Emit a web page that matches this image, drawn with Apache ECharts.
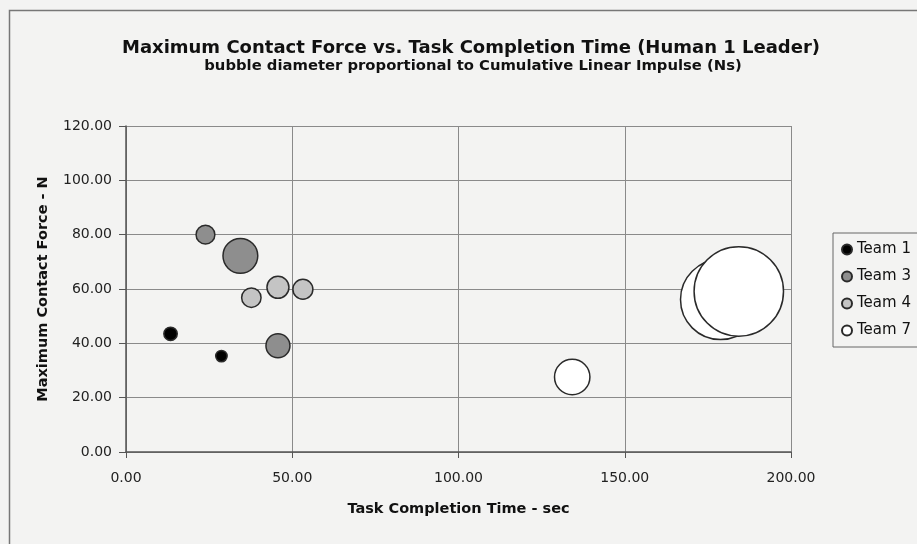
<!DOCTYPE html>
<html>
<head>
<meta charset="utf-8">
<script src="https://cdn.jsdelivr.net/npm/echarts@6/dist/echarts.min.js"></script>
<style>html,body{margin:0;padding:0;background:#f3f3f2;}#c{width:917px;height:544px;}</style>
</head>
<body>
<div id="c"></div>
<script>
// Data
const xTicks = [0, 50, 100, 150, 200];
const yTicks = [0, 20, 40, 60, 80, 100, 120];
const teamNames = ['Team 1', 'Team 3', 'Team 4', 'Team 7'];
// Task completion time (sec)
const team1Time = [13.4, 28.7];
const team3Time = [23.9, 34.4, 45.7];
const team4Time = [37.7, 45.7, 53.2];
const team7Time = [134.2, 178.8, 184.3];
// Maximum contact force (N)
const team1Force = [43.5, 35.3];
const team3Force = [80.0, 72.2, 39.1];
const team4Force = [56.8, 60.6, 59.9];
const team7Force = [27.6, 56.1, 59.1];
// Cumulative linear impulse (Ns) - bubble diameter proportional
const team1Impulse = [6.7, 5.7];
const team3Impulse = [9.4, 17.4, 12.0];
const team4Impulse = [9.7, 11.0, 10.0];
const team7Impulse = [17.7, 40.0, 44.7];

const pxPerNs = 2;
function pts(xs, ys, zs) { return xs.map((x, i) => [x, ys[i], zs[i]]); }
const FONT = '"DejaVu Sans", "Liberation Sans", Arial, sans-serif';
const fills = ['#000000', '#8e8e8e', '#c4c4c4', '#ffffff'];
const dataSets = [
  pts(team1Time, team1Force, team1Impulse),
  pts(team3Time, team3Force, team3Impulse),
  pts(team4Time, team4Force, team4Impulse),
  pts(team7Time, team7Force, team7Impulse)
];

const chart = echarts.init(document.getElementById('c'), null, {renderer: 'canvas'});
chart.setOption({
  backgroundColor: '#f3f3f2',
  animation: false,
  graphic: [{
    type: 'rect', left: 7, top: 8, shape: {width: 940, height: 560},
    style: {fill: 'none', stroke: '#777', lineWidth: 1.5}, silent: true, z: -1
  }],
  title: [{
    text: 'Maximum Contact Force vs. Task Completion Time (Human 1 Leader)',
    left: 466, top: 34, textAlign: 'center',
    textStyle: {fontFamily: FONT, fontSize: 18, fontWeight: 'bold', color: '#111'}
  }, {
    text: 'bubble diameter proportional to Cumulative Linear Impulse (Ns)',
    left: 468, top: 54, textAlign: 'center',
    textStyle: {fontFamily: FONT, fontSize: 14.8, fontWeight: 'bold', color: '#111'}
  }],
  legend: {
    orient: 'vertical', left: 833, top: 233,
    data: teamNames, icon: 'circle', itemWidth: 10, itemHeight: 10, itemGap: 10,
    padding: [8, 12, 8, 8],
    borderColor: '#666', borderWidth: 1, backgroundColor: '#f3f3f2',
    textStyle: {fontFamily: FONT, fontSize: 15, color: '#111', lineHeight: 17}
  },
  grid: {left: 126, right: 126, top: 126, bottom: 92, containLabel: false},
  xAxis: {
    type: 'value', min: 0, max: 200, interval: 50,
    name: 'Task Completion Time - sec', nameLocation: 'middle', nameGap: 50,
    nameTextStyle: {fontFamily: FONT, fontSize: 14.5, fontWeight: 'bold', color: '#111'},
    axisLine: {show: true, lineStyle: {color: '#555', width: 1.5}},
    axisTick: {show: true, length: 6, lineStyle: {color: '#555'}},
    axisLabel: {fontFamily: FONT, fontSize: 14, color: '#222', margin: 19, formatter: v => v.toFixed(2)},
    splitLine: {show: true, lineStyle: {color: '#8a8a8a', width: 1}}
  },
  yAxis: {
    type: 'value', min: 0, max: 120, interval: 20,
    name: 'Maximum Contact Force - N', nameLocation: 'middle', nameGap: 75, nameRotate: 90,
    nameTextStyle: {fontFamily: FONT, fontSize: 14.5, fontWeight: 'bold', color: '#111'},
    axisLine: {show: true, lineStyle: {color: '#555', width: 1.5}},
    axisTick: {show: true, length: 7, lineStyle: {color: '#555'}},
    axisLabel: {fontFamily: FONT, fontSize: 14, color: '#222', margin: 14, formatter: v => v.toFixed(2)},
    splitLine: {show: true, lineStyle: {color: '#8a8a8a', width: 1}}
  },
  series: teamNames.map((name, i) => ({
    name: name, type: 'scatter', data: dataSets[i],
    symbol: 'circle',
    symbolSize: d => d[2] * pxPerNs,
    itemStyle: {color: fills[i], borderColor: '#2a2a2a', borderWidth: 1.5, opacity: 1},
    emphasis: {disabled: true}
  }))
});
</script>
</body>
</html>
